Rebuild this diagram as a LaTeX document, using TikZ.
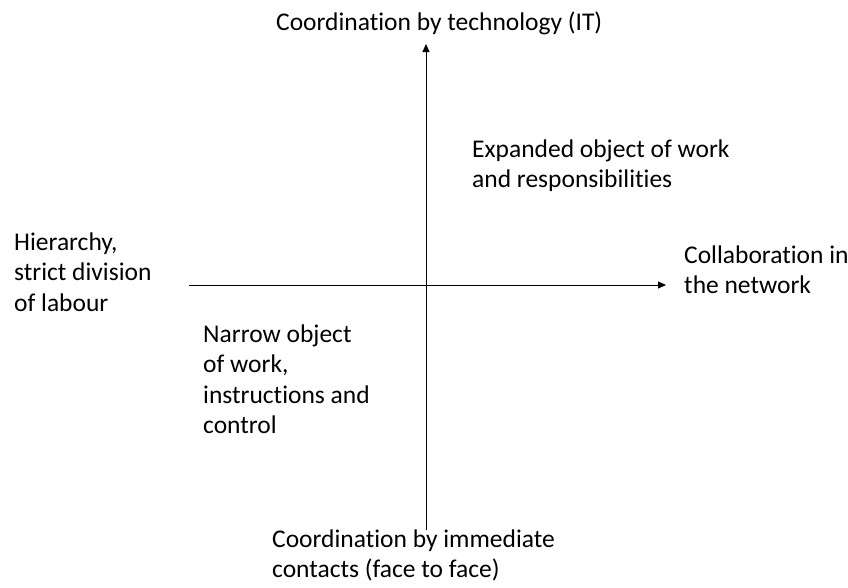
\documentclass[tikz,border=0pt]{standalone}
\usepackage{fontspec}
\setmainfont{Carlito}[Ligatures={NoCommon}]
\usetikzlibrary{arrows.meta}
\tikzset{
  axis/.style={line width=1pt, -{Triangle[length=8pt,width=7pt]}},
  lbl/.style={anchor=base west, inner sep=0pt, font=\fontsize{25.5}{30.5}\selectfont}
}
\newcommand{\mylines}[1]{\begin{tabular}[t]{@{}l@{}}#1\end{tabular}}
\begin{document}
\begin{tikzpicture}[x=1pt,y=-1pt]
\useasboundingbox (0,0) rectangle (848,587);
\fill[white] (0,0) rectangle (848,587);
\coordinate (vb) at (426,530);
\coordinate (vt) at (426,44);
\coordinate (hl) at (189,285);
\coordinate (hr) at (666,285);
\draw[axis] (vb) -- (vt);
\draw[axis] (hl) -- (hr);
\node[lbl] (top) at (276,30) {Coordination by technology (IT)};
\node[lbl] (exp) at (472,157) {\mylines{Expanded object of work\\and responsibilities}};
\node[lbl] (hier) at (14,250) {\mylines{Hierarchy,\\strict division\\of labour}};
\node[lbl] (coll) at (684,263) {\mylines{Collaboration in\\the network}};
\node[lbl] (narrow) at (203,342) {\mylines{Narrow object\\of work,\\instructions and\\control}};
\node[lbl] (bot) at (272,547) {\mylines{Coordination by immediate\\contacts (face to face)}};
\end{tikzpicture}
\end{document}
